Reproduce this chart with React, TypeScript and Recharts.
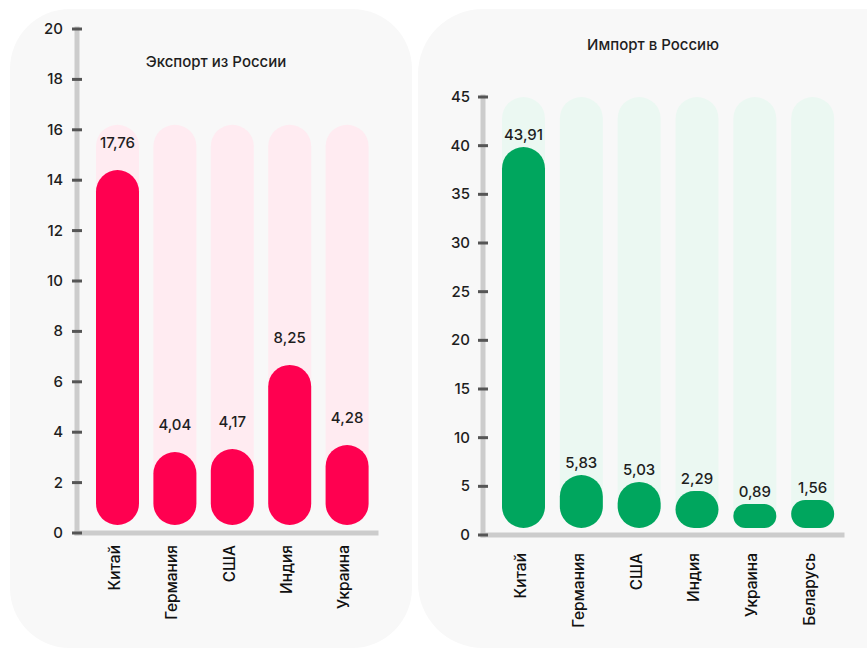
import React from 'react';
import { BarChart, Bar, XAxis, YAxis, LabelList } from 'recharts';

const FONT = 'Inter, "Noto Sans", sans-serif';

// ---- Экспорт из России ----
const exportCountries = ['Китай', 'Германия', 'США', 'Индия', 'Украина'];
const exportBars = [14.4, 3.21, 3.33, 6.67, 3.49];
const exportBackground = [16.2, 16.2, 16.2, 16.2, 16.2];
const exportLabels = ['17,76', '4,04', '4,17', '8,25', '4,28'];
const exportTicks = [0, 2, 4, 6, 8, 10, 12, 14, 16, 18, 20];
const exportEdges = [1, 2, 3, 4, 5];

// ---- Импорт в Россию ----
const importCountries = ['Китай', 'Германия', 'США', 'Индия', 'Украина', 'Беларусь'];
const importBars = [39.86, 6.16, 5.45, 4.52, 3.19, 3.6];
const importBackground = [45, 45, 45, 45, 45, 45];
const importLabels = ['43,91', '5,83', '5,03', '2,29', '0,89', '1,56'];
const importTicks = [0, 5, 10, 15, 20, 25, 30, 35, 40, 45];
const importEdges = [1, 2, 3, 4, 5, 6];

const buildRows = (cats: string[], vals: number[], bg: number[], labels: string[]) =>
  cats.map((c, i) => ({ name: c, value: vals[i], bg: bg[i], label: labels[i] }));

const exportRows = buildRows(exportCountries, exportBars, exportBackground, exportLabels);
const importRows = buildRows(importCountries, importBars, importBackground, importLabels);

const makePill = (gap: number) => (props: any) => {
  const { x, y, width, height, fill } = props;
  const h = Math.max(height - gap, 0);
  const r = Math.min(width / 2, h / 2);
  return <rect x={x} y={y} width={width} height={h} rx={r} ry={r} fill={fill} />;
};

const makeYTick = (labelGap: number) => (props: any) => {
  const { x, y, payload } = props;
  return (
    <g>
      <line x1={x - 5} x2={x + 5} y1={y} y2={y} stroke="#555" strokeWidth={3} />
      <text x={x - labelGap} y={y} dy={5} textAnchor="end" fill="#1e1e1e" fontSize={15} fontWeight={500} fontFamily={FONT}>
        {payload.value}
      </text>
    </g>
  );
};

const EdgeTick = (props: any) => (
  <line x1={props.x} x2={props.x} y1={props.y - 5} y2={props.y + 5} stroke="#555" strokeWidth={3} />
);

const makeCatTick = (dy: number) => (props: any) => {
  const { x, y, payload } = props;
  const tx = x + 2;
  const ty = y + dy;
  return (
    <text x={tx} y={ty} transform={`rotate(-90, ${tx}, ${ty})`} textAnchor="end" fill="#111" fontSize={15.5} fontWeight={500} fontFamily={FONT}>
      {payload.value}
    </text>
  );
};

const makeLabel = (off: number) => (p: any) => (
  <text x={p.x + p.width / 2} y={p.y - off} textAnchor="middle" fill="#1e1e1e" fontSize={15} fontWeight={500} fontFamily={FONT}>
    {p.value}
  </text>
);

const axisLineStyle = { stroke: '#cccccc', strokeWidth: 5, strokeLinecap: 'square' as const };

export default function App() {
  return (
    <div style={{ position: 'absolute', left: 0, top: 0, width: 867, height: 648, overflow: 'hidden', background: '#fff', fontFamily: FONT }}>
      <div style={{ position: 'absolute', left: 10, top: 9, width: 402, height: 639, borderRadius: 60, background: '#f8f8f8' }} />
      <div style={{ position: 'absolute', left: 418, top: 9, width: 520, height: 639, borderRadius: 65, background: '#f8f8f8' }} />
      <div style={{ position: 'absolute', left: 116, top: 52, width: 200, lineHeight: '20px', textAlign: 'center', fontSize: 15, fontWeight: 500, color: '#1e1e1e' }}>
        Экспорт из России
      </div>
      <div style={{ position: 'absolute', left: 553, top: 35, width: 200, lineHeight: '20px', textAlign: 'center', fontSize: 15, fontWeight: 500, color: '#1e1e1e' }}>
        Импорт в Россию
      </div>

      <div style={{ position: 'absolute', left: 0, top: 0 }}>
        <BarChart width={410} height={648} data={exportRows} margin={{ top: 29, right: 34, bottom: 15, left: 0 }} barGap={-43}>
          <XAxis xAxisId={0} type="number" domain={[0, 5]} allowDataOverflow ticks={exportEdges} interval={0}
            padding={{ left: 12, right: 0 }} height={0} axisLine={false} tickLine={false} tickSize={0} tickMargin={0}
            tick={EdgeTick} />
          <XAxis xAxisId={1} dataKey="name" type="category" interval={0} padding={{ left: 12, right: 0 }} height={100}
            axisLine={axisLineStyle} tickLine={false} tickSize={0} tickMargin={0} tick={makeCatTick(12)} />
          <YAxis type="number" domain={[0, 20]} ticks={exportTicks} interval={0} width={77}
            axisLine={axisLineStyle} tickLine={false} tickSize={0} tickMargin={0} tick={makeYTick(14)} />
          <Bar xAxisId={1} dataKey="bg" fill="#ffebf1" barSize={43} shape={makePill(8)} isAnimationActive={false} />
          <Bar xAxisId={1} dataKey="value" fill="#ff0050" barSize={43} shape={makePill(8)} isAnimationActive={false}>
            <LabelList dataKey="label" content={makeLabel(22)} />
          </Bar>
        </BarChart>
      </div>

      <div style={{ position: 'absolute', left: 418, top: 0 }}>
        <BarChart width={449} height={648} data={importRows} margin={{ top: 97, right: 25, bottom: 13, left: 0 }} barGap={-43}>
          <XAxis xAxisId={0} type="number" domain={[0, 6]} allowDataOverflow ticks={importEdges} interval={0}
            padding={{ left: 12, right: 0 }} height={0} axisLine={false} tickLine={false} tickSize={0} tickMargin={0}
            tick={EdgeTick} />
          <XAxis xAxisId={1} dataKey="name" type="category" interval={0} padding={{ left: 12, right: 0 }} height={100}
            axisLine={axisLineStyle} tickLine={false} tickSize={0} tickMargin={0} tick={makeCatTick(18)} />
          <YAxis type="number" domain={[0, 45]} ticks={importTicks} interval={0} width={65}
            axisLine={axisLineStyle} tickLine={false} tickSize={0} tickMargin={0} tick={makeYTick(13)} />
          <Bar xAxisId={1} dataKey="bg" fill="#ebf8f2" barSize={43} shape={makePill(7)} isAnimationActive={false} />
          <Bar xAxisId={1} dataKey="value" fill="#00a65e" barSize={43} shape={makePill(7)} isAnimationActive={false}>
            <LabelList dataKey="label" content={makeLabel(7)} />
          </Bar>
        </BarChart>
      </div>
    </div>
  );
}
